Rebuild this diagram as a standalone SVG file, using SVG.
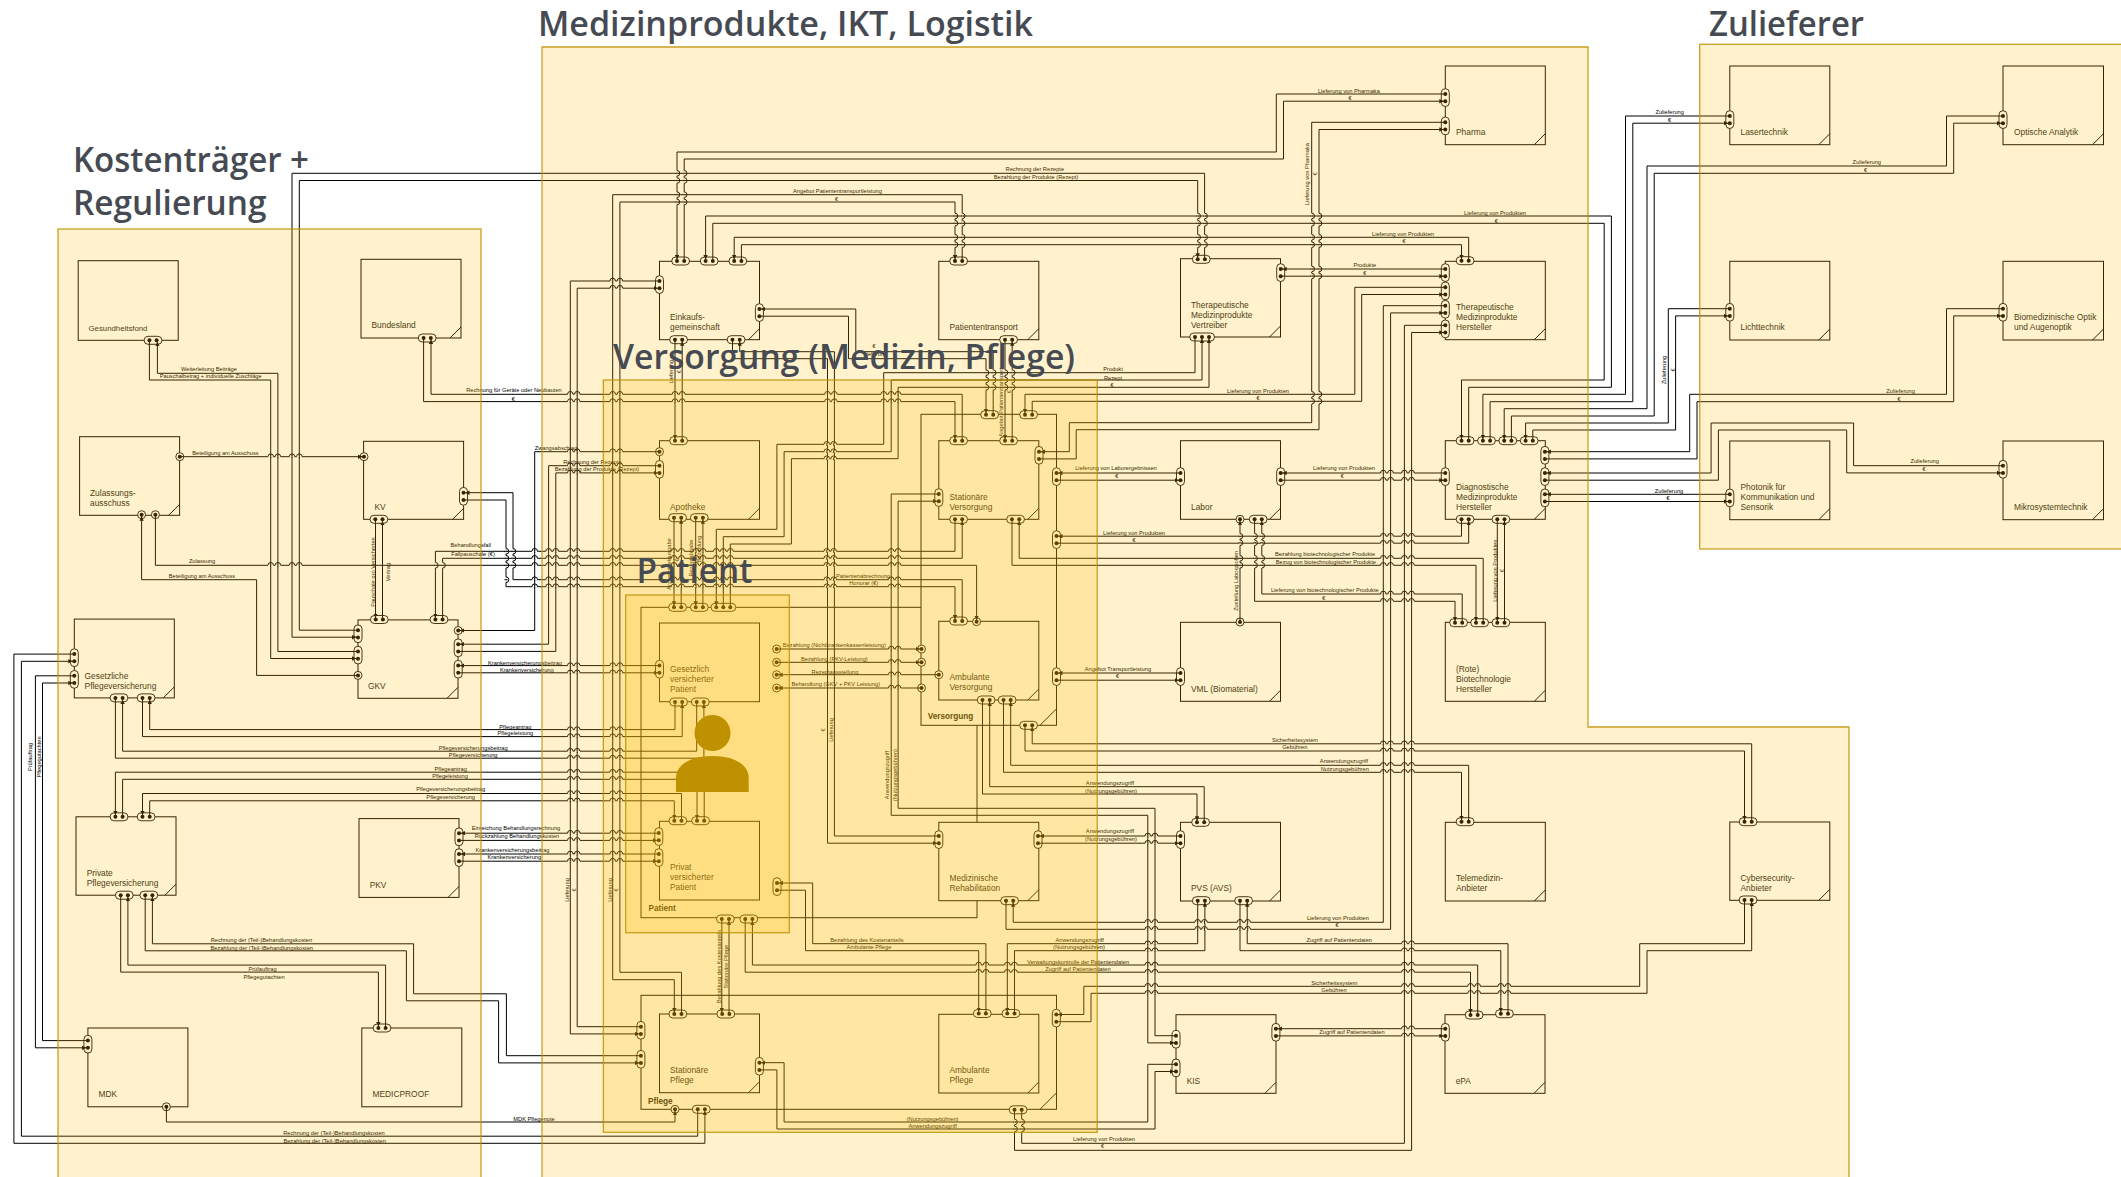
<svg xmlns="http://www.w3.org/2000/svg" width="2121" height="1177" viewBox="0 0 2121 1177">
<style>
text{font-family:"Liberation Sans",Arial,sans-serif}
.b{fill:#fff;stroke:#000;stroke-width:1}
.n{font-size:8.4px;fill:#1a1a1a}
.g{font-size:7.8px;fill:#1a1a1a}
.c{font-size:8.2px;font-weight:700;fill:#111}
.t{font-size:5.7px;fill:#000;text-anchor:middle}
.p{fill:#fff;stroke:#000;stroke-width:.9}
.d{fill:#000;stroke:none}
.f{fill:none;stroke:#000;stroke-width:1}
.w{fill:none;stroke:#fff;stroke-width:1.7}
.k{fill:none;stroke:#000;stroke-width:1}
#links path{fill:none;stroke:#000;stroke-width:1}
#links .w{stroke:#fff;stroke-width:1.7}
.e{marker-end:url(#a)}
.s{marker-start:url(#a)}
.r{fill:#ffbf00;fill-opacity:.2;stroke:#bf9000;stroke-width:1.3;stroke-opacity:.85}
.h{font-family:"Open Sans","Noto Sans",sans-serif;font-weight:600;font-size:34px;fill:#464a52}
</style>
<defs>
<marker id="a" markerUnits="userSpaceOnUse" markerWidth="8" markerHeight="6" refX="6" refY="2.2" orient="auto-start-reverse"><path d="M0,0L4.2,2.2L0,4.4z" fill="#000"/></marker>
<g id="ph"><rect class="p" x="-5.3" y="-4" width="17.8" height="8" rx="4"/><circle class="d" cx="0" cy="0" r="2"/><circle class="d" cx="7.2" cy="0" r="2"/></g>
<g id="pv"><rect class="p" x="-4" y="-5.3" width="8" height="17.8" rx="4"/><circle class="d" cx="0" cy="0" r="2"/><circle class="d" cx="0" cy="7.2" r="2"/></g>
<g id="p3"><rect class="p" x="-5.3" y="-4" width="24.8" height="8" rx="4"/><circle class="d" cx="0" cy="0" r="2"/><circle class="d" cx="7" cy="0" r="2"/><circle class="d" cx="14" cy="0" r="2"/></g>
<g id="pin"><circle class="p" cx="0" cy="0" r="4"/><circle class="d" cx="0" cy="0" r="2"/></g>
<path id="fo" class="f" d="M-11,0L0,-11"/>
<path id="fl" class="f" d="M-16.5,0L0,-16.5"/>
<g id="h"><path class="w" d="M-2.8,0H2.8"/><path class="k" d="M0,-1.5V1.5M-2.8,0A2.8,2.8 0 0 1 2.8,0"/></g>
<g id="v"><path class="w" d="M0,-2.8V2.8"/><path class="k" d="M-1.5,0H1.5M0,-2.8A2.8,2.8 0 0 1 0,2.8"/></g>
<g id="ra"><use href="#h" x="570.3"/><use href="#h" x="577.2"/><use href="#h" x="612.7"/><use href="#h" x="619.9"/></g>
<g id="rb"><use href="#h" x="1383.3"/><use href="#h" x="1390.6"/><use href="#h" x="1404.4"/><use href="#h" x="1411.6"/></g>
<g id="rc"><use href="#h" x="1147.8"/><use href="#h" x="1155"/></g>
<g id="rd"><use href="#h" x="1404.4"/><use href="#h" x="1411.6"/></g>
<g id="re"><use href="#ra"/><use href="#h" x="534.7"/><use href="#h" x="548.6"/><use href="#h" x="555.8"/><use href="#h" x="674"/><use href="#h" x="681.5"/><use href="#h" x="696"/><use href="#h" x="703"/><use href="#h" x="716.3"/><use href="#h" x="723.2"/><use href="#h" x="730.4"/><use href="#h" x="826.8"/><use href="#h" x="833.7"/><use href="#h" x="891.2"/><use href="#h" x="898.1"/></g>
<g id="rz"><use href="#ra"/><use href="#h" x="675"/><use href="#h" x="682.2"/><use href="#h" x="827.5"/><use href="#h" x="834.4"/><use href="#h" x="883.7"/><use href="#h" x="891.2"/><use href="#h" x="898.1"/></g>
<g id="rf"><use href="#h" x="891.2"/><use href="#h" x="898.1"/></g>
<g id="rg"><use href="#h" x="1197.7"/><use href="#h" x="1204.5"/><use href="#h" x="1240"/><use href="#h" x="1247.7"/></g>
<g id="rj"><use href="#h" x="1470.5"/><use href="#h" x="1477.7"/><use href="#h" x="1500.8"/><use href="#h" x="1508"/></g>
<g id="ri"><use href="#h" x="978.7"/><use href="#h" x="986"/><use href="#h" x="1007.3"/><use href="#h" x="1014.5"/></g>
<g id="rk"><use href="#h" x="270.7"/><use href="#h" x="277.9"/><use href="#h" x="292"/><use href="#h" x="299.3"/></g>
<g id="rm"><use href="#h" x="612.7"/><use href="#h" x="619.9"/></g>
<g id="rn"><use href="#h" x="826.8"/><use href="#h" x="833.7"/></g>
<g id="vr"><use href="#v" y="216"/><use href="#v" y="223.3"/><use href="#v" y="237.3"/><use href="#v" y="244.7"/></g>
<g id="vs"><use href="#v" y="269"/><use href="#v" y="276"/><use href="#v" y="394.3"/><use href="#v" y="401.3"/></g>
<g id="vt"><use href="#v" y="173.3"/><use href="#v" y="180.5"/><use href="#v" y="194.7"/><use href="#v" y="202"/></g>
<g id="vu"><use href="#v" y="536.3"/><use href="#v" y="542.8"/><use href="#v" y="558.3"/><use href="#v" y="565.3"/></g>
<g id="vw"><use href="#v" y="372.7"/><use href="#v" y="380"/><use href="#v" y="387.3"/></g>
</defs>

<g id="nodes">
<g id="container-patient"><rect class="b" x="641" y="607.3" width="336" height="310.4"/><use href="#ph" x="674" y="607.3"/><use href="#ph" x="695.7" y="607.3"/><use href="#p3" x="716.3" y="607.3"/><use href="#ph" x="721.8" y="919"/><use href="#ph" x="745.2" y="919"/><use href="#pv" x="777" y="883"/><use href="#pin" x="776.6" y="649"/><use href="#pin" x="776.6" y="662.3"/><use href="#pin" x="776.6" y="674.7"/><use href="#pin" x="776.6" y="688"/><text class="c" x="648.5" y="910.7">Patient</text></g>
<g id="container-versorgung"><rect class="b" x="921" y="414.3" width="135.5" height="311"/><use href="#fl" x="1056.5" y="725.3"/><use href="#ph" x="986" y="414.7"/><use href="#ph" x="1025" y="414.7"/><use href="#ph" x="1025" y="725.3"/><use href="#pv" x="1056.5" y="473"/><use href="#pv" x="1056.5" y="536"/><use href="#pv" x="1056.5" y="673"/><use href="#pin" x="921.5" y="649"/><use href="#pin" x="921.5" y="662.3"/><use href="#pin" x="921.5" y="688"/><text class="c" x="927.7" y="718.7">Versorgung</text></g>
<g id="container-pflege"><rect class="b" x="641" y="995.3" width="415.5" height="114"/><use href="#fl" x="1056.5" y="1109.3"/><use href="#pv" x="640.9" y="1026.7"/><use href="#pv" x="640.9" y="1055.7"/><use href="#pv" x="1056.3" y="1014.5"/><use href="#pin" x="675" y="1109.3"/><use href="#ph" x="697.7" y="1109.3"/><use href="#ph" x="1014.5" y="1109.8"/><text class="c" x="648" y="1104">Pflege</text></g>

<g id="gesundheitsfond"><rect class="b" x="78.2" y="260.7" width="100" height="79.6"/><use href="#ph" x="149.4" y="340.3"/><text class="g" x="88.5" y="330.7">Gesundheitsfond</text></g>
<g id="bundesland"><rect class="b" x="361" y="259.3" width="100" height="78.7"/><use href="#fo" x="461" y="338"/><use href="#ph" x="423.6" y="338"/><text class="n" x="371.5" y="328.4">Bundesland</text></g>
<g id="zulassungsausschuss"><rect class="b" x="79.6" y="436.7" width="100" height="78.6"/><use href="#fo" x="179.6" y="515.3"/><use href="#pin" x="179.8" y="456.7"/><use href="#pin" x="141.6" y="514.7"/><use href="#pin" x="155.4" y="514.7"/><text class="n" x="90" y="495.7">Zulassungs-</text><text class="n" x="90" y="505.7">ausschuss</text></g>
<g id="kv"><rect class="b" x="363.6" y="441.3" width="100" height="78"/><use href="#fo" x="463.6" y="519.3"/><use href="#pin" x="364" y="456.7"/><use href="#pv" x="463.5" y="492.7"/><use href="#ph" x="375.3" y="519.3"/><text class="n" x="374.5" y="510">KV</text></g>
<g id="gkv"><rect class="b" x="358" y="619.9" width="100" height="78.4"/><use href="#fo" x="458" y="698.3"/><use href="#ph" x="375.7" y="619.5"/><use href="#ph" x="435.4" y="619.5"/><use href="#pv" x="358" y="630.2"/><use href="#pv" x="358" y="651.5"/><use href="#pin" x="358" y="675.4"/><use href="#pin" x="458.2" y="630.5"/><use href="#pv" x="458.2" y="644.2"/><use href="#pv" x="458.2" y="665.6"/><text class="n" x="368" y="689">GKV</text></g>
<g id="gesetzliche-pflegeversicherung"><rect class="b" x="74.3" y="619.1" width="100" height="78.8"/><use href="#fo" x="174.3" y="697.9"/><use href="#pv" x="74.3" y="654.1"/><use href="#pv" x="74.3" y="675.8"/><use href="#ph" x="115.4" y="697.9"/><use href="#ph" x="142.5" y="697.9"/><text class="n" x="84.6" y="678.5">Gesetzliche</text><text class="n" x="84.6" y="688.5">Pflegeversicherung</text></g>
<g id="private-pflegeversicherung"><rect class="b" x="76" y="816.8" width="100" height="78.4"/><use href="#fo" x="176" y="895.2"/><use href="#ph" x="115.4" y="816.8"/><use href="#ph" x="142.5" y="816.8"/><use href="#ph" x="120.7" y="895.2"/><use href="#ph" x="145.2" y="895.2"/><text class="n" x="86.7" y="875.5">Private</text><text class="n" x="86.7" y="885.5">Pflegeversicherung</text></g>
<g id="pkv"><rect class="b" x="359" y="818.6" width="100" height="78.8"/><use href="#fo" x="459" y="897.4"/><use href="#pv" x="459" y="833.2"/><use href="#pv" x="459" y="854"/><text class="n" x="369.7" y="888">PKV</text></g>
<g id="mdk"><rect class="b" x="87.9" y="1028" width="100" height="78.8"/><use href="#pv" x="87.9" y="1040.6"/><use href="#pin" x="166.4" y="1106.8"/><text class="n" x="98.6" y="1097.2">MDK</text></g>
<g id="medicproof"><rect class="b" x="361.8" y="1028" width="100" height="78.8"/><use href="#ph" x="378.4" y="1028"/><text class="n" x="372.5" y="1097.2">MEDICPROOF</text></g>

<g id="einkauf"><rect class="b" x="659.5" y="261.3" width="100" height="78.4"/><use href="#fo" x="759.5" y="339.7"/><use href="#ph" x="677" y="261"/><use href="#ph" x="705.6" y="261"/><use href="#ph" x="734.2" y="261"/><use href="#ph" x="675" y="339.7"/><use href="#ph" x="732.5" y="339.7"/><use href="#pv" x="659.5" y="281"/><use href="#pv" x="759.4" y="309"/><text class="n" x="670" y="320">Einkaufs-</text><text class="n" x="670" y="330">gemeinschaft</text></g>
<g id="patiententransport"><rect class="b" x="938.8" y="261.3" width="100" height="78.4"/><use href="#fo" x="1038.8" y="339.7"/><use href="#ph" x="955" y="261"/><use href="#ph" x="1005" y="339.7"/><text class="n" x="949.5" y="330">Patiententransport</text></g>
<g id="apotheke"><rect class="b" x="659.5" y="440.7" width="100" height="78.6"/><use href="#fo" x="759.5" y="519.3"/><use href="#ph" x="675" y="440.7"/><use href="#ph" x="674" y="517.7"/><use href="#ph" x="695.7" y="517.7"/><use href="#pin" x="659.5" y="451.7"/><use href="#pv" x="659.5" y="465.7"/><text class="n" x="670" y="509.7">Apotheke</text></g>
<g id="stationaere-versorgung"><rect class="b" x="938.8" y="440.7" width="100" height="78.6"/><use href="#fo" x="1038.8" y="519.3"/><use href="#ph" x="955" y="440.7"/><use href="#ph" x="1005" y="440.7"/><use href="#ph" x="955" y="519.3"/><use href="#ph" x="1012" y="519.3"/><use href="#pv" x="938.8" y="494"/><use href="#pv" x="1039" y="451.7"/><text class="n" x="949.5" y="499.7">Stationäre</text><text class="n" x="949.5" y="509.7">Versorgung</text></g>
<g id="ambulante-versorgung"><rect class="b" x="938.8" y="621.3" width="100" height="78.7"/><use href="#fo" x="1038.8" y="700"/><use href="#ph" x="955" y="621"/><use href="#pin" x="976.6" y="621.7"/><use href="#pin" x="938.8" y="674.7"/><use href="#ph" x="982.5" y="700"/><use href="#ph" x="1003.5" y="700"/><text class="n" x="949.5" y="680.4">Ambulante</text><text class="n" x="949.5" y="690.4">Versorgung</text></g>
<g id="gesetzlich-versicherter-patient"><rect class="b" x="659.5" y="623" width="100" height="78.7"/><use href="#pv" x="659.5" y="665.6"/><use href="#ph" x="675" y="702"/><use href="#ph" x="696.7" y="702"/><text class="n" x="670" y="672">Gesetzlich</text><text class="n" x="670" y="682">versicherter</text><text class="n" x="670" y="692">Patient</text></g>
<g id="privat-versicherter-patient"><rect class="b" x="659.5" y="821.3" width="100" height="78.7"/><use href="#ph" x="674.3" y="820.7"/><use href="#ph" x="697" y="820.7"/><use href="#pv" x="658.8" y="833"/><use href="#pv" x="658.8" y="854"/><text class="n" x="670" y="870.3">Privat</text><text class="n" x="670" y="880.3">versicherter</text><text class="n" x="670" y="890.3">Patient</text></g>
<g id="reha"><rect class="b" x="938.8" y="822.3" width="100" height="78.4"/><use href="#fo" x="1038.8" y="900.7"/><use href="#pv" x="938.8" y="836"/><use href="#pv" x="1038" y="836"/><use href="#ph" x="1006" y="900.7"/><text class="n" x="949.5" y="881">Medizinische</text><text class="n" x="949.5" y="891">Rehabilitation</text></g>
<g id="stationaere-pflege"><rect class="b" x="659.5" y="1014" width="100" height="78.7"/><use href="#fo" x="759.5" y="1092.7"/><use href="#ph" x="674.3" y="1014"/><use href="#ph" x="722.2" y="1014"/><use href="#pv" x="759.4" y="1062.7"/><text class="n" x="670" y="1073">Stationäre</text><text class="n" x="670" y="1083">Pflege</text></g>
<g id="ambulante-pflege"><rect class="b" x="938.8" y="1014.3" width="100" height="78.7"/><use href="#fo" x="1038.8" y="1093"/><use href="#ph" x="978.7" y="1013.5"/><use href="#ph" x="1007.3" y="1013.5"/><text class="n" x="949.5" y="1073.3">Ambulante</text><text class="n" x="949.5" y="1083.3">Pflege</text></g>

<g id="pharma"><rect class="b" x="1445.3" y="66" width="100" height="78.7"/><use href="#fo" x="1545.3" y="144.7"/><use href="#pv" x="1445.3" y="94"/><use href="#pv" x="1445.3" y="122.3"/><text class="n" x="1456" y="135">Pharma</text></g>
<g id="ther-vertreiber"><rect class="b" x="1180.5" y="258.7" width="100" height="78.3"/><use href="#fo" x="1280.5" y="337"/><use href="#ph" x="1197.7" y="259.3"/><use href="#pv" x="1280.7" y="269"/><use href="#p3" x="1195" y="337"/><text class="n" x="1191" y="307.5">Therapeutische</text><text class="n" x="1191" y="317.5">Medizinprodukte</text><text class="n" x="1191" y="327.5">Vertreiber</text></g>
<g id="ther-hersteller"><rect class="b" x="1445.3" y="261.3" width="100" height="78.4"/><use href="#fo" x="1545.3" y="339.7"/><use href="#ph" x="1461.5" y="260.7"/><use href="#pv" x="1445.3" y="269"/><use href="#pv" x="1445.3" y="287.3"/><use href="#pv" x="1445.3" y="305.7"/><use href="#pv" x="1445.3" y="325.3"/><text class="n" x="1456" y="310">Therapeutische</text><text class="n" x="1456" y="320">Medizinprodukte</text><text class="n" x="1456" y="330">Hersteller</text></g>
<g id="labor"><rect class="b" x="1180.5" y="440.7" width="100" height="78.6"/><use href="#fo" x="1280.5" y="519.3"/><use href="#pv" x="1180.5" y="473"/><use href="#pv" x="1280.7" y="473"/><use href="#pin" x="1240" y="519.3"/><use href="#ph" x="1254.6" y="519.3"/><text class="n" x="1191" y="509.7">Labor</text></g>
<g id="vml"><rect class="b" x="1180.5" y="622.3" width="100" height="79"/><use href="#fo" x="1280.5" y="701.3"/><use href="#pin" x="1240" y="622"/><use href="#pv" x="1180.5" y="673"/><text class="n" x="1191" y="691.7">VML (Biomaterial)</text></g>
<g id="diagnostische"><rect class="b" x="1445.3" y="440.7" width="100" height="78.6"/><use href="#fo" x="1545.3" y="519.3"/><use href="#ph" x="1461.5" y="440.7"/><use href="#ph" x="1482.9" y="440.7"/><use href="#ph" x="1504.2" y="440.7"/><use href="#ph" x="1525.6" y="440.7"/><use href="#pv" x="1445.3" y="473"/><use href="#pv" x="1544.9" y="451.7"/><use href="#pv" x="1544.9" y="473"/><use href="#pv" x="1544.9" y="494.3"/><use href="#ph" x="1461.5" y="519.3"/><use href="#ph" x="1497.3" y="519.3"/><text class="n" x="1456" y="489.7">Diagnostische</text><text class="n" x="1456" y="499.7">Medizinprodukte</text><text class="n" x="1456" y="509.7">Hersteller</text></g>
<g id="biotechnologie"><rect class="b" x="1445.3" y="622.3" width="100" height="79"/><use href="#fo" x="1545.3" y="701.3"/><use href="#ph" x="1455" y="622.7"/><use href="#ph" x="1476" y="622.7"/><use href="#ph" x="1497.3" y="622.7"/><text class="n" x="1456" y="671.7">(Rote)</text><text class="n" x="1456" y="681.7">Biotechnologie</text><text class="n" x="1456" y="691.7">Hersteller</text></g>
<g id="pvs"><rect class="b" x="1180.5" y="822.3" width="100" height="78.7"/><use href="#fo" x="1280.5" y="901"/><use href="#ph" x="1197" y="822.3"/><use href="#pv" x="1180.5" y="836"/><use href="#ph" x="1197.7" y="900.7"/><use href="#ph" x="1240" y="900.7"/><text class="n" x="1191" y="891.3">PVS (AVS)</text></g>
<g id="telemedizin"><rect class="b" x="1445.3" y="822.3" width="100" height="78.7"/><use href="#fo" x="1545.3" y="901"/><use href="#ph" x="1461.5" y="821.7"/><text class="n" x="1456" y="881.3">Telemedizin-</text><text class="n" x="1456" y="891.3">Anbieter</text></g>
<g id="kis"><rect class="b" x="1176" y="1014.7" width="100" height="78.6"/><use href="#fo" x="1276" y="1093.3"/><use href="#pv" x="1176" y="1035.7"/><use href="#pv" x="1176" y="1064.3"/><use href="#pv" x="1275.9" y="1028.7"/><text class="n" x="1186.7" y="1083.7">KIS</text></g>
<g id="epa"><rect class="b" x="1445" y="1014.7" width="100" height="78.6"/><use href="#fo" x="1545" y="1093.3"/><use href="#ph" x="1470.5" y="1015"/><use href="#ph" x="1500.8" y="1013.7"/><use href="#pv" x="1445.3" y="1028.7"/><text class="n" x="1455.7" y="1083.7">ePA</text></g>
<g id="cybersecurity"><rect class="b" x="1729.8" y="822" width="100" height="78.3"/><use href="#fo" x="1829.8" y="900.3"/><use href="#ph" x="1744.5" y="821.7"/><use href="#ph" x="1744.5" y="900"/><text class="n" x="1740.5" y="881">Cybersecurity-</text><text class="n" x="1740.5" y="891">Anbieter</text></g>

<g id="lasertechnik"><rect class="b" x="1729.8" y="66" width="100" height="78.7"/><use href="#fo" x="1829.8" y="144.7"/><use href="#pv" x="1729.8" y="116"/><text class="n" x="1740.5" y="135">Lasertechnik</text></g>
<g id="optische-analytik"><rect class="b" x="2003" y="66" width="100.5" height="78.7"/><use href="#fo" x="2103.5" y="144.7"/><use href="#pv" x="2003" y="116"/><text class="n" x="2014" y="135">Optische Analytik</text></g>
<g id="lichttechnik"><rect class="b" x="1729.8" y="261.3" width="100" height="78.7"/><use href="#fo" x="1829.8" y="340"/><use href="#pv" x="1729.8" y="308.7"/><text class="n" x="1740.5" y="330.4">Lichttechnik</text></g>
<g id="biomedizinische-optik"><rect class="b" x="2003" y="261.3" width="100.5" height="78.7"/><use href="#fo" x="2103.5" y="340"/><use href="#pv" x="2003" y="308.7"/><text class="n" x="2014" y="320.4">Biomedizinische Optik</text><text class="n" x="2014" y="330.4">und Augenoptik</text></g>
<g id="photonik"><rect class="b" x="1729.8" y="441" width="100" height="78.7"/><use href="#fo" x="1829.8" y="519.7"/><use href="#pv" x="1729.8" y="494.3"/><text class="n" x="1740.5" y="490">Photonik für</text><text class="n" x="1740.5" y="500">Kommunikation und</text><text class="n" x="1740.5" y="510">Sensorik</text></g>
<g id="mikrosystemtechnik"><rect class="b" x="2003" y="441" width="100.5" height="78.7"/><use href="#fo" x="2103.5" y="519.7"/><use href="#pv" x="2003" y="465.7"/><text class="n" x="2014" y="510">Mikrosystemtechnik</text></g>
</g>

<g id="links">
<path class="s" d="M157.4,340.3V373.3H277.9V651.5H358"/><path class="e" d="M149.4,340.3V380H270.7V658.5H358"/>
<path class="s" d="M358,637.2H292V173.3H1204.6V259.3"/><path class="e" d="M358,630.2H299.3V180.5H1197.7V259.3"/>
<path class="e" d="M179.8,456.7H364"/>
<path class="e" d="M155.4,514.7V565.3H976.6V621.7"/><path class="s" d="M141.6,514.7V579.7H256.6V675.4H358"/>
<path class="e" d="M375.5,519.3V619.5"/><path class="s" d="M382.5,519.3V619.5"/>
<path class="s" d="M463.5,492.7H513V579.7H962.2V621"/><path class="e" d="M463.5,500H506V586.7H955V621"/>
<path class="s" d="M435.4,619.5V551.3H955V519.3"/><path class="e" d="M442.6,619.5V558.3H962.2V519.3"/>
<path class="s" d="M431,338V394.3H962.2V440.7"/><path class="e" d="M423.6,338V401.6H955V440.7"/>
<path class="s" d="M458.2,630.5H534.7V451.7H659.5"/><path class="s" d="M458.2,644.2H548.6V465.7H659.5"/><path class="e" d="M458.2,651.4H555.8V472.9H659.5"/>
<path class="s" d="M458.2,665.6H659.5"/><path class="e" d="M458.2,672.8H659.5"/>
<path class="s" d="M149.7,697.9V729.6H675V702"/><path class="e" d="M142.5,697.9V736.6H682.2V702"/>
<path class="s" d="M122.6,697.9V751.2H696.7V702"/><path class="e" d="M115.4,697.9V758.2H703.9V702"/>
<path class="s" d="M115.4,816.8V772.2H704.2V820.7"/><path class="e" d="M122.6,816.8V779.3H697V820.7"/>
<path class="s" d="M142.5,816.8V793.5H681.5V820.7"/><path class="e" d="M149.7,816.8V800.8H674.3V820.7"/>
<path class="s" d="M459,833.2H658.8"/><path class="e" d="M459,840.4H658.8"/><path class="s" d="M459,854H658.8"/><path class="e" d="M459,861.2H658.8"/>
<path class="s" d="M127.9,895.2V965.1H385.6V1028"/><path class="e" d="M120.7,895.2V972.1H378.4V1028"/>
<path class="s" d="M152.4,895.2V943.8H413.6V993.8H506.4V1055.7H640.9"/><path class="e" d="M145.2,895.2V950.8H406.4V1000.8H498.6V1062.9H640.9"/>
<path class="e" d="M74.3,654.1H13.9V1143.3H704.9V1109.3"/><path class="s" d="M74.3,661.3H21.4V1136.2H697.7V1109.3"/>
<path class="e" d="M74.3,675.8H35.4V1047.8H87.9"/><path class="s" d="M74.3,683H42.5V1040.6H87.9"/>
<path class="e" d="M166.4,1106.8V1122H675V1109.3"/>
<path class="e" d="M659.5,281H570.3V1033.9H640.9"/><path class="s" d="M659.5,288.2H577.2V1026.7H640.9"/>
<path class="e" d="M962.2,261V194.7H612.7V979.7H674.3V1014"/><path class="s" d="M955,261V202H619.9V972.3H681.5V1014"/>
<path class="s" d="M677,261V152H1276.3V94H1445.3"/><path class="e" d="M684.2,261V159H1283.5V101.2H1445.3"/>
<path class="s" d="M705.6,261V216H1611.4V387.3H1468.7V440.7"/><path class="e" d="M712.8,261V223.3H1604.2V380H1461.5V440.7"/>
<path class="s" d="M734.2,261V237.3H1468.7V260.7"/><path class="e" d="M741.4,261V244.7H1461.5V260.7"/>
<path class="e" d="M675,339.7V440.7"/><path class="s" d="M682.2,339.7V440.7"/>
<path class="s" d="M739.7,339.7V351.7H834.4V836H938.8"/><path class="e" d="M732.5,339.7V358.7H827.5V843.2H938.8"/>
<path class="s" d="M759.4,309H855.8V351.7H993.2V414.7"/><path class="e" d="M759.4,316.2H848.5V358.7H986V414.7"/>
<path class="s" d="M1012.2,339.7V440.7"/><path class="e" d="M1005,339.7V440.7"/>
<path class="e" d="M1195,337V372.7H883.7V444.3H776.9V529.3H716.3V607.3"/><path class="s" d="M1202,337V380H891.2V451.7H784.1V536.7H723.3V607.3"/><path class="s" d="M1209,337V387.3H898.1V458.7H791.4V544H730.3V607.3"/>
<path class="e" d="M674,517.7V607.3"/><path class="s" d="M681.2,517.7V607.3"/><path class="e" d="M695.7,517.7V607.3"/><path class="s" d="M702.9,517.7V607.3"/>
<path class="s" d="M1280.7,269H1445.3"/><path class="e" d="M1280.7,276.2H1445.3"/>
<path class="e" d="M1445.3,287.3H1354.8V394.3H1025V414.7"/><path class="s" d="M1445.3,294.5H1361.7V401.3H1032.2V414.7"/>
<path class="e" d="M1445.3,305.7H1383.3V922.3H1013.2V900.7"/><path class="s" d="M1445.3,312.9H1390.6V929.3H1006V900.7"/>
<path d="M1445.3,325.3H1404.4V1143.3H1021.7V1109.8"/><path class="s" d="M1445.3,332.5H1411.6V1150.3H1014.5V1109.8"/>
<path class="e" d="M1445.3,122.3H1311.7V422.7H1069.3V451.7H1039"/><path class="s" d="M1445.3,129.5H1319V429.7H1076.2V458.9H1039"/>
<path class="s" d="M1056.5,473H1180.5"/><path class="e" d="M1056.5,480.2H1180.5"/>
<path class="s" d="M1056.5,536.2H1461.5V519.3"/><path class="e" d="M1056.5,543.2H1468.7V519.3"/>
<path class="s" d="M1056.5,673H1180.5"/><path class="e" d="M1056.5,680.2H1180.5"/>
<path class="s" d="M1280.7,473H1445.3"/><path class="e" d="M1280.7,480.2H1445.3"/>
<path class="s" d="M1240,519.3V622"/>
<path class="s" d="M1261.8,519.3V594H1462.2V622.7"/><path class="e" d="M1254.6,519.3V601.3H1455V622.7"/>
<path class="s" d="M1019.2,519.3V558.3H1483.2V622.7"/><path class="e" d="M1012,519.3V565.3H1476V622.7"/>
<path class="e" d="M1497.3,519.3V622.7"/><path class="s" d="M1504.5,519.3V622.7"/>
<path class="e" d="M1729.8,116H1625.5V394.3H1482.9V440.7"/><path class="s" d="M1729.8,123.2H1632.8V401.7H1490.1V440.7"/>
<path class="e" d="M2003,116H1946.5V166H1647V408.7H1504.2V440.7"/><path class="s" d="M2003,123.2H1953.7V173.3H1654.2V416H1511.4V440.7"/>
<path class="e" d="M1729.8,308.7H1668.3V423H1525.6V440.7"/><path class="s" d="M1729.8,315.9H1675.6V430H1532.8V440.7"/>
<path class="e" d="M2003,308.7H1946.5V394.3H1689.7V451.7H1544.9"/><path class="s" d="M2003,315.9H1953.7V401.7H1697V458.9H1544.9"/>
<path class="e" d="M2003,465.7H1853.6V423H1711.1V473H1544.9"/><path class="s" d="M2003,472.9H1846.7V430H1718.4V480.2H1544.9"/>
<path class="s" d="M1544.9,494.3H1729.8"/><path class="e" d="M1544.9,501.5H1729.8"/>
<path class="e" d="M776.6,649H921.5"/><path class="e" d="M776.6,662.3H921.5"/><path class="s" d="M776.6,674.7H938.8"/><path class="s" d="M776.6,688H921.5"/>
<path class="s" d="M777,883H812.7V943.7H985.9V1013.5"/><path class="e" d="M777,890.2H805.5V950.7H978.7V1013.5"/>
<path class="e" d="M721.8,919V1014"/><path class="s" d="M729,919V1014"/>
<path class="s" d="M752.4,919V965H1477.7V1015"/><path class="e" d="M745.2,919V972.2H1470.5V1015"/>
<path class="s" d="M1007.3,1013.5V943.7H1197.7V900.7"/><path class="e" d="M1014.5,1013.5V950.7H1204.9V900.7"/>
<path class="s" d="M1247.2,900.7V943.7H1508V1013.7"/><path class="e" d="M1240,900.7V950.7H1500.8V1013.7"/>
<path class="s" d="M989.7,700V786.7H1204.2V822.3"/><path class="e" d="M982.5,700V794H1197V822.3"/>
<path class="s" d="M1010.7,700V765.3H1468.7V821.7"/><path class="e" d="M1003.5,700V772.3H1461.5V821.7"/>
<path class="s" d="M1032.2,725.3V743.8H1751.7V821.7"/><path class="e" d="M1025,725.3V751H1744.5V821.7"/>
<path class="e" d="M938.8,494H891.2V815.3H1147.8V1042.9H1176"/><path class="s" d="M938.8,501.2H898.1V808.3H1155V1035.7H1176"/>
<path class="s" d="M759.4,1062.7H784.1V1122H1147.8V1064.3H1176"/><path class="e" d="M759.4,1069.9H776.9V1129H1155V1071.5H1176"/>
<path class="s" d="M1275.9,1028.7H1445.3"/><path class="e" d="M1275.9,1035.9H1445.3"/>
<path class="s" d="M1038,836H1180.5"/><path class="e" d="M1038,843.2H1180.5"/>
<path class="s" d="M1056.3,1014.5H1083.8V986.3H1639.7V943.7H1744.5V900"/><path class="e" d="M1056.3,1021.7H1091V993.3H1647V950.7H1751.7V900"/>
<g id="hops">
<use href="#re" y="551.3"/><use href="#re" y="558.3"/><use href="#re" y="565.3"/><use href="#re" y="579.7"/><use href="#re" y="586.7"/>
<use href="#rz" y="394.3"/><use href="#rz" y="401.6"/>
<use href="#rk" y="456.7"/><use href="#rk" y="565.3"/>
<use href="#v" x="435.4" y="565.3"/><use href="#v" x="442.6" y="565.3"/>
<use href="#v" x="506" y="551.3"/><use href="#v" x="506" y="558.3"/><use href="#v" x="506" y="565.3"/><use href="#v" x="506" y="579.7"/><use href="#v" x="513" y="551.3"/><use href="#v" x="513" y="558.3"/><use href="#v" x="513" y="565.3"/>
<use href="#ra" y="451.7"/><use href="#ra" y="465.7"/><use href="#ra" y="472.9"/><use href="#ra" y="665.6"/><use href="#ra" y="672.8"/><use href="#ra" y="729.6"/><use href="#ra" y="736.6"/><use href="#ra" y="751.2"/><use href="#ra" y="758.2"/><use href="#ra" y="772.2"/><use href="#ra" y="779.3"/><use href="#ra" y="793.5"/><use href="#ra" y="800.8"/><use href="#ra" y="833.2"/><use href="#ra" y="840.4"/><use href="#ra" y="854"/><use href="#ra" y="861.2"/>
<use href="#rb" y="473"/><use href="#rb" y="480.2"/><use href="#rb" y="536.2"/><use href="#rb" y="543.2"/><use href="#rb" y="558.3"/><use href="#rb" y="565.3"/><use href="#rb" y="594"/><use href="#rb" y="601.3"/><use href="#rb" y="743.8"/><use href="#rb" y="751"/><use href="#rb" y="765.3"/><use href="#rb" y="772.3"/>
<use href="#rc" y="836"/><use href="#rc" y="843.2"/><use href="#rc" y="922.3"/><use href="#rc" y="929.3"/><use href="#rc" y="943.7"/><use href="#rc" y="950.7"/><use href="#rc" y="965"/><use href="#rc" y="972.2"/><use href="#rc" y="986.3"/><use href="#rc" y="993.3"/>
<use href="#rd" y="943.7"/><use href="#rd" y="950.7"/><use href="#rd" y="965"/><use href="#rd" y="972.2"/><use href="#rd" y="986.3"/><use href="#rd" y="993.3"/><use href="#rd" y="1028.7"/><use href="#rd" y="1035.9"/>
<use href="#rf" y="649"/><use href="#rf" y="662.3"/><use href="#rf" y="674.7"/><use href="#rf" y="688"/>
<use href="#rg" y="922.3"/><use href="#rg" y="929.3"/><use href="#rj" y="986.3"/><use href="#rj" y="993.3"/><use href="#ri" y="965"/><use href="#ri" y="972.2"/>
<use href="#rm" y="281"/><use href="#rm" y="288.2"/><use href="#rn" y="444.3"/><use href="#rn" y="451.7"/><use href="#rn" y="458.7"/>
<use href="#v" x="1014.5" y="1122"/><use href="#v" x="1014.5" y="1129"/><use href="#v" x="1021.7" y="1122"/><use href="#v" x="1021.7" y="1129"/>
<use href="#vr" x="955"/><use href="#vr" x="962.2"/><use href="#vr" x="1197.7"/><use href="#vr" x="1204.6"/><use href="#vr" x="1311.7"/><use href="#vr" x="1319"/>
<use href="#vs" x="1311.7"/><use href="#vs" x="1319"/><use href="#vt" x="677"/><use href="#vt" x="684.2"/>
<use href="#vu" x="1240"/><use href="#vu" x="1254.6"/><use href="#vu" x="1261.8"/>
<use href="#vw" x="986"/><use href="#vw" x="993.2"/><use href="#vw" x="1005"/><use href="#vw" x="1012.2"/>
</g>
</g>

<g id="labels">
<text class="t" x="209" y="371">Weiterleitung Beiträge</text>
<text class="t" x="210.7" y="378">Pauschalbetrag + individuelle Zuschläge</text>
<text class="t" x="225.4" y="455">Beteiligung am Ausschuss</text>
<text class="t" x="514" y="392.3">Rechnung für Geräte oder Neubauten</text><text class="t" x="513.4" y="400.7">€</text>
<text class="t" x="202" y="563.3">Zulassung</text>
<text class="t" x="202" y="578">Beteiligung am Ausschuss</text>
<text class="t" x="470.8" y="547">Behandlungsfall</text><text class="t" x="473" y="556">Fallpauschale (€)</text>
<text class="t" x="556" y="449.5">Zwangsabschlag</text>
<text class="t" x="592.5" y="463.5">Rechnung der Rezepte</text><text class="t" x="597" y="470.8">Bezahlung der Produkte (Rezept)</text>
<text class="t" x="525" y="664.8">Krankenversicherungsbeitrag</text><text class="t" x="526.8" y="671.8">Krankenversicherung</text>
<text class="t" x="515.4" y="728.5">Pflegeantrag</text><text class="t" x="515.4" y="735.4">Pflegeleistung</text>
<text class="t" x="473.2" y="749.8">Pflegeversicherungsbeitrag</text><text class="t" x="473.2" y="757">Pflegeversicherung</text>
<text class="t" x="450.7" y="770.8">Pflegeantrag</text><text class="t" x="450" y="778.1">Pflegeleistung</text>
<text class="t" x="450.7" y="791.4">Pflegeversicherungsbeitrag</text><text class="t" x="450.7" y="798.7">Pflegeversicherung</text>
<text class="t" x="516" y="830">Einreichung Behandlungsrechnung</text><text class="t" x="517" y="837.8">Rückzahlung Behandlungskosten</text>
<text class="t" x="512.5" y="852">Krankenversicherungsbeitrag</text><text class="t" x="514.3" y="859.1">Krankenversicherung</text>
<text class="t" x="261.4" y="941.9">Rechnung der (Teil-)Behandlungskosten</text><text class="t" x="261.8" y="949.6">Bezahlung der (Teil-)Behandlungskosten</text>
<text class="t" x="262.5" y="971">Prüfauftrag</text><text class="t" x="264" y="979">Pflegegutachten</text>
<text class="t" x="534" y="1121">MDK Pflegenote</text>
<text class="t" x="334" y="1134.8">Rechnung der (Teil-)Behandlungskosten</text><text class="t" x="334.6" y="1142.5">Bezahlung der (Teil-)Behandlungskosten</text>
<text class="t" x="1034.8" y="171.3">Rechnung der Rezepte</text><text class="t" x="1035.9" y="179">Bezahlung der Produkte (Rezept)</text>
<text class="t" x="837.5" y="193">Angebot Patiententransportleistung</text><text class="t" x="836.5" y="200.7">€</text>
<text class="t" x="1348.9" y="93">Lieferung von Pharmaka</text><text class="t" x="1350" y="99.7">€</text>
<text class="t" x="1495" y="215">Lieferung von Produkten</text><text class="t" x="1496.3" y="222.7">€</text>
<text class="t" x="1403" y="236">Lieferung von Produkten</text><text class="t" x="1404" y="243.3">€</text>
<text class="t" x="1364.8" y="267">Produkte</text><text class="t" x="1364.8" y="274.7">€</text>
<text class="t" x="1113" y="371">Produkt</text><text class="t" x="1113" y="379.7">Rezept</text><text class="t" x="1112" y="386.7">€</text>
<text class="t" x="1258" y="393.3">Lieferung von Produkten</text><text class="t" x="1258" y="400.3">€</text>
<text class="t" x="874" y="347.7">€</text><text class="t" x="875.4" y="355.7">Lieferung</text>
<text class="t" x="863" y="578">Patientenabrechnung</text><text class="t" x="863.7" y="585">Honorar (€)</text>
<text class="t" x="834.4" y="647.3">Bezahlung (Nichtkrankenkassenleistung)</text><text class="t" x="834.4" y="661.3">Bezahlung (PKV-Leistung)</text><text class="t" x="835" y="673.7">Rezeptausstellung</text><text class="t" x="835.8" y="686.3">Behandlung (GKV + PKV Leistung)</text>
<text class="t" x="867" y="941.7">Bezahlung des Kostenanteils</text><text class="t" x="868.9" y="949.3">Ambulante Pflege</text>
<text class="t" x="932.6" y="1120.7">(Nutzungsgebühren)</text><text class="t" x="932.6" y="1127.7">Anwendungszugriff</text>
<text class="t" x="1116" y="470.3">Lieferung von Laborergebnissen</text><text class="t" x="1116.8" y="478.3">€</text>
<text class="t" x="1344" y="470.3">Lieferung von Produkten</text><text class="t" x="1342.4" y="478.3">€</text>
<text class="t" x="1134" y="534.7">Lieferung von Produkten</text><text class="t" x="1134" y="541.7">€</text>
<text class="t" x="1325" y="556.3">Bezahlung biotechnologischer Produkte</text><text class="t" x="1325.8" y="564.3">Bezug von biotechnologischer Produkte</text>
<text class="t" x="1324.8" y="592.3">Lieferung von biotechnologischer Produkte</text><text class="t" x="1323.8" y="600">€</text>
<text class="t" x="1117.9" y="670.7">Angebot Transportleistung</text><text class="t" x="1117.5" y="678.3">€</text>
<text class="t" x="1295" y="742">Sicherheitssystem</text><text class="t" x="1294.8" y="749">Gebühren</text>
<text class="t" x="1344" y="763.3">Anwendungszugriff</text><text class="t" x="1344.8" y="770.7">Nutzungsgebühren</text>
<text class="t" x="1110" y="784.7">Anwendungszugriff</text><text class="t" x="1111" y="792.7">(Nutzungsgebühren)</text>
<text class="t" x="1110" y="833.3">Anwendungszugriff</text><text class="t" x="1111" y="841">(Nutzungsgebühren)</text>
<text class="t" x="1337.9" y="919.7">Lieferung von Produkten</text><text class="t" x="1337.2" y="927.3">€</text>
<text class="t" x="1339.3" y="942.3">Zugriff auf Patientendaten</text>
<text class="t" x="1079.6" y="941.7">Anwendungszugriff</text><text class="t" x="1079" y="949.3">(Nutzungsgebühren)</text>
<text class="t" x="1078" y="963.7">Verwaltungskontrolle der Patientendaten</text><text class="t" x="1078" y="971">Zugriff auf Patientendaten</text>
<text class="t" x="1334.4" y="985">Sicherheitssystem</text><text class="t" x="1334" y="992.3">Gebühren</text>
<text class="t" x="1352" y="1034.3">Zugriff auf Patientendaten</text>
<text class="t" x="1104" y="1141.3">Lieferung von Produkten</text><text class="t" x="1102.7" y="1148.3">€</text>
<text class="t" x="1669.7" y="114.3">Zulieferung</text><text class="t" x="1669.7" y="122">€</text>
<text class="t" x="1866.8" y="164.3">Zulieferung</text><text class="t" x="1865.7" y="172">€</text>
<text class="t" x="1900.6" y="393">Zulieferung</text><text class="t" x="1899" y="400.7">€</text>
<text class="t" x="1924.7" y="463.3">Zulieferung</text><text class="t" x="1924" y="471">€</text>
<text class="t" x="1669" y="493">Zulieferung</text><text class="t" x="1668" y="499.7">€</text>
<text class="t" transform="translate(32.4 757) rotate(-90)">Prüfauftrag</text>
<text class="t" transform="translate(41.3 757) rotate(-90)">Pflegegutachten</text>
<text class="t" transform="translate(374.7 572) rotate(-90)">Pauschale pro Versicherten</text>
<text class="t" transform="translate(389.6 572) rotate(-90)">Vertrag</text>
<text class="t" transform="translate(670.5 564) rotate(-90)">Arzneimittelausgabe</text>
<text class="t" transform="translate(678.5 560) rotate(-90)">€</text>
<text class="t" transform="translate(692.5 558) rotate(-90)">Rezeptabgabe</text>
<text class="t" transform="translate(700.5 549) rotate(-90)">Bezahlung</text>
<text class="t" transform="translate(673 371.7) rotate(-90)">Lieferung</text>
<text class="t" transform="translate(680.8 371.7) rotate(-90)">€</text>
<text class="t" transform="translate(1003.4 402) rotate(-90)">Angebot Patiententransport</text>
<text class="t" transform="translate(1011 391.7) rotate(-90)">€</text>
<text class="t" transform="translate(833 730) rotate(-90)">Lieferung</text>
<text class="t" transform="translate(825 730) rotate(-90)">€</text>
<text class="t" transform="translate(889 775) rotate(-90)">Anwendungszugriff</text>
<text class="t" transform="translate(897 775) rotate(-90)">(Nutzungsgebühren)</text>
<text class="t" transform="translate(568.9 890) rotate(-90)">Lieferung</text>
<text class="t" transform="translate(576.4 890) rotate(-90)">€</text>
<text class="t" transform="translate(612 890) rotate(-90)">Lieferung</text>
<text class="t" transform="translate(618.4 890) rotate(-90)">€</text>
<text class="t" transform="translate(721.4 966.7) rotate(-90)">Bezahlung des Kostenanteils</text>
<text class="t" transform="translate(728.3 966.7) rotate(-90)">Stationäre Pflege</text>
<text class="t" transform="translate(1309.2 174) rotate(-90)">Lieferung von Pharmaka</text>
<text class="t" transform="translate(1317 174) rotate(-90)">€</text>
<text class="t" transform="translate(1496.6 570.7) rotate(-90)">Lieferung von Produkten</text>
<text class="t" transform="translate(1503.5 570.7) rotate(-90)">€</text>
<text class="t" transform="translate(1238.3 581) rotate(-90)">Zustellung Laborproben</text>
<text class="t" transform="translate(1665.9 370) rotate(-90)">Zulieferung</text>
<text class="t" transform="translate(1674.5 370) rotate(-90)">€</text>
</g>

<g id="regions">
<rect class="r" x="58" y="229" width="423" height="960"/>
<path class="r" d="M542,47H1588V727H1849V1190H542Z"/>
<rect class="r" x="1699.7" y="44.3" width="440" height="504.7"/>
<rect class="r" x="603.4" y="380" width="493.8" height="752.3"/>
<rect class="r" x="625.7" y="595" width="163.6" height="337.7"/>
</g>

<g id="person" fill="#bf9000"><circle cx="712.5" cy="733" r="18"/><path d="M676,792V778C676,765 690,756 712.5,756C735,756 748.7,765 748.7,778V792Z"/></g>

<g id="titles">
<text class="h" x="73" y="171.7" textLength="236" lengthAdjust="spacingAndGlyphs">Kostenträger +</text>
<text class="h" x="73" y="215" textLength="193.5" lengthAdjust="spacingAndGlyphs">Regulierung</text>
<text class="h" x="538" y="35.5" textLength="495" lengthAdjust="spacingAndGlyphs">Medizinprodukte, IKT, Logistik</text>
<text class="h" x="1709" y="36" textLength="155" lengthAdjust="spacingAndGlyphs">Zulieferer</text>
<text class="h" x="613" y="369" textLength="462" lengthAdjust="spacingAndGlyphs">Versorgung (Medizin, Pflege)</text>
<text class="h" x="636.4" y="583.3" textLength="116" lengthAdjust="spacingAndGlyphs">Patient</text>
</g>
</svg>
